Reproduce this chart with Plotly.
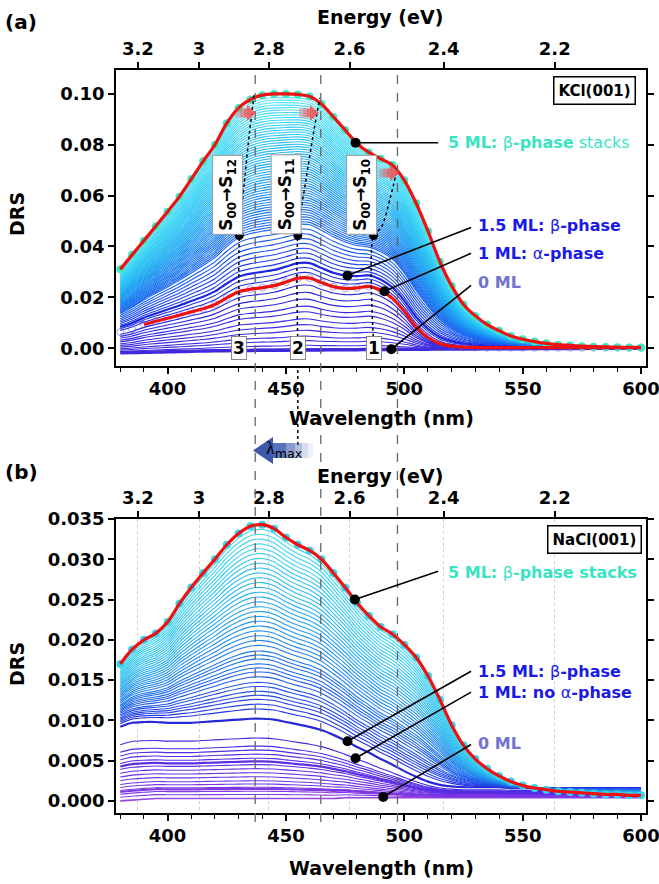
import numpy as np
import plotly.graph_objects as go

# ---------------- data ----------------
wavelength = list(range(380, 605, 5))          # nm grid
energy_ticks = [3.2, 3.0, 2.8, 2.6, 2.4, 2.2]   # eV
energy_labels = ["3.2", "3", "2.8", "2.6", "2.4", "2.2"]

# (a) KCl(001)
kcl_0ml = [-0.0018, -0.0017, -0.0016, -0.0015, -0.0014, -0.0013, -0.0012, -0.0011, -0.0010,
           -0.0010, -0.0009, -0.0009, -0.0008, -0.0008, -0.0008, -0.0007, -0.0007, -0.0007,
           -0.0006, -0.0006, -0.0006, -0.0005, -0.0005, -0.0005, -0.0004, -0.0004, -0.0004,
           -0.0003, -0.0003, -0.0003, -0.0003, -0.0002, -0.0002, -0.0002, -0.0002, -0.0001,
           -0.0001, -0.0001, -0.0001, -0.0001, 0.0, 0.0, 0.0, 0.0, 0.0]
kcl_1ml = [0.0063, 0.0075, 0.0093, 0.0106, 0.0118, 0.0130, 0.0143, 0.0155, 0.0172, 0.0198,
           0.0222, 0.0232, 0.0238, 0.0246, 0.0260, 0.0275, 0.0276, 0.0258, 0.0242, 0.0235,
           0.0237, 0.0243, 0.0228, 0.0196, 0.0145, 0.0083, 0.0042, 0.0018, 0.0008, 0.0004,
           0.0003, 0.0002, 0.0002, 0.0002, 0.0002, 0.0002, 0.0002, 0.0002, 0.0002, 0.0002,
           0.0002, 0.0002, 0.0002, 0.0002, 0.0002]
kcl_5ml = [0.0310, 0.0367, 0.0423, 0.0480, 0.0537, 0.0596, 0.0665, 0.0735, 0.0800, 0.0885,
           0.0945, 0.0978, 0.0995, 0.1000, 0.1000, 0.0998, 0.0990, 0.0960, 0.0910, 0.0858,
           0.0805, 0.0770, 0.0745, 0.0720, 0.0660, 0.0570, 0.0460, 0.0340, 0.0245, 0.0172,
           0.0127, 0.0093, 0.0069, 0.0048, 0.0035, 0.0026, 0.0019, 0.0014, 0.0011, 0.0008,
           0.0006, 0.0005, 0.0004, 0.0003, 0.0003]
# DRS at 440 nm of every intermediate spectrum
kcl_sub_ml_h440 = [-0.0004, 0.0008, 0.0024, 0.0039, 0.0059, 0.0078, 0.0098, 0.0122, 0.0141,
                   0.0165, 0.0188, 0.0213]
kcl_multi_h440 = [0.026, 0.028, 0.030, 0.032, 0.034, 0.036, 0.038, 0.040, 0.042, 0.044, 0.046,
                  0.047, 0.048, 0.049, 0.050, 0.051, 0.052, 0.053, 0.054, 0.055, 0.056, 0.057,
                  0.058, 0.059, 0.060, 0.061, 0.062, 0.063, 0.064, 0.065, 0.066, 0.067, 0.068,
                  0.069, 0.070, 0.071, 0.072, 0.073, 0.074, 0.075, 0.076, 0.077, 0.078, 0.079,
                  0.080, 0.081, 0.082, 0.083, 0.084, 0.085, 0.086, 0.087, 0.088, 0.089, 0.090,
                  0.091, 0.092, 0.093, 0.094, 0.095, 0.096, 0.097, 0.098]
kcl_15ml_h440 = 0.030

# (b) NaCl(001)
nacl_0ml = [0.0000, 0.0001, 0.0002, 0.0003, 0.0003, 0.0003, 0.0003, 0.0003, 0.0003, 0.0003,
            0.0003, 0.0003, 0.0003, 0.0003, 0.0003, 0.0003, 0.0003, 0.0003, 0.0003, 0.0004,
            0.0004, 0.0004, 0.0004, 0.0004, 0.0004, 0.0004, 0.0004, 0.0004, 0.0004, 0.0004,
            0.0004, 0.0004, 0.0004, 0.0004, 0.0004, 0.0004, 0.0004, 0.0004, 0.0004, 0.0004,
            0.0004, 0.0004, 0.0004, 0.0004, 0.0004]
nacl_15ml = [0.0092, 0.0097, 0.0098, 0.0098, 0.0097, 0.0097, 0.0097, 0.0098, 0.0099, 0.0100,
             0.0101, 0.0102, 0.0102, 0.0101, 0.0098, 0.0095, 0.0092, 0.0088, 0.0082, 0.0075,
             0.0067, 0.0060, 0.0052, 0.0045, 0.0037, 0.0030, 0.0024, 0.0020, 0.0018, 0.0017,
             0.0017, 0.0017, 0.0017, 0.0016, 0.0016, 0.0016, 0.0016, 0.0016, 0.0016, 0.0016,
             0.0016, 0.0016, 0.0016, 0.0016, 0.0016]
nacl_5ml = [0.0170, 0.0188, 0.0200, 0.0208, 0.0222, 0.0245, 0.0265, 0.0283, 0.0300, 0.0318,
            0.0332, 0.0341, 0.0343, 0.0338, 0.0327, 0.0318, 0.0311, 0.0300, 0.0283, 0.0265,
            0.0246, 0.0230, 0.0216, 0.0207, 0.0194, 0.0178, 0.0155, 0.0126, 0.0094, 0.0069,
            0.0052, 0.0040, 0.0031, 0.0024, 0.0019, 0.0016, 0.0014, 0.0012, 0.0011, 0.0010,
            0.0009, 0.0008, 0.0008, 0.0007, 0.0007]
nacl_low_h440 = [0.0008, 0.0012, 0.0015, 0.0017, 0.0021, 0.0025, 0.0030, 0.0035, 0.0040,
                 0.0045, 0.0049, 0.0053, 0.0058, 0.0063, 0.0068, 0.0078]
nacl_high_h440 = [0.0114, 0.0120, 0.0126, 0.0131, 0.0136, 0.0142, 0.0147, 0.0154, 0.0160,
                  0.0165, 0.0170, 0.0176, 0.0181, 0.0186, 0.0193, 0.0199, 0.0205, 0.0211,
                  0.0217, 0.0223, 0.0229, 0.0235, 0.0241, 0.0247, 0.0253, 0.0259, 0.0265,
                  0.0271, 0.0277, 0.0283, 0.0289, 0.0295, 0.0301, 0.0307, 0.0313, 0.0319,
                  0.0325, 0.0331, 0.0337]

# transition positions (nm) marked by dashed lines
transition_wl = [437.0, 464.7, 497.1]
# S00->S1n labels in (a)
s_labels = ["S<sub>00</sub>→S<sub>12</sub>", "S<sub>00</sub>→S<sub>11</sub>", "S<sub>00</sub>→S<sub>10</sub>"]
s_label_wl = [425.3, 450.0, 481.9]
peak_numbers = ["3", "2", "1"]
peak_wl = [430.3, 455.0, 487.0]
# dotted guides (wavelength, DRS) following the peaks with coverage
guide_wl = [[430.3, 430.3, 432.4, 434.6, 436.6],
            [455.0, 455.0, 458.4, 461.8, 464.3],
            [487.0, 487.0, 490.3, 494.1, 497.1]]
guide_drs = [[0.0020, 0.0443, 0.0650, 0.0850, 0.1000],
             [0.0020, 0.0443, 0.0659, 0.0855, 0.0984],
             [0.0020, 0.0443, 0.0475, 0.0592, 0.0710]]
# red-shift arrows (pixel centres on the page)
shift_arrow_px = [(247, 113), (310, 113), (390, 173)]

REF = wavelength.index(440)
FONT = "DejaVu Sans"
W, H = 659, 884
XR = [378.2, 602.1]


def px(x):
    return x / W


def py(y):
    return 1 - y / H


def lerp_color(stops, t):
    t = min(max(t, 0.0), 1.0)
    for (t0, c0), (t1, c1) in zip(stops[:-1], stops[1:]):
        if t <= t1:
            f = (t - t0) / (t1 - t0) if t1 > t0 else 0
            c = [round(a + f * (b - a)) for a, b in zip(c0, c1)]
            return f"rgb({c[0]},{c[1]},{c[2]})"
    c = stops[-1][1]
    return f"rgb({c[0]},{c[1]},{c[2]})"


def blend(base, top, h):
    b = np.array(base)
    t = np.array(top)
    w = (h - b[REF]) / (t[REF] - b[REF])
    return b + w * (t - b), w


fig = go.Figure()


def add_line(y, color, width, xa, ya, dash=None, shape="spline", xs=None):
    fig.add_trace(go.Scatter(x=wavelength if xs is None else xs, y=y, mode="lines",
                             line=dict(color=color, width=width, shape=shape, smoothing=0.8, dash=dash),
                             xaxis=xa, yaxis=ya, showlegend=False, hoverinfo="skip"))


# invisible traces so the top (energy) axes are always drawn
for xa, ya in (("x2", "y"), ("x4", "y2")):
    fig.add_trace(go.Scatter(x=XR, y=[0, 0], mode="markers", marker=dict(opacity=0),
                             xaxis=xa, yaxis=ya, showlegend=False, hoverinfo="skip"))

# ---------------- panel (a) ----------------
low_a = [(0, (70, 45, 222)), (1, (35, 35, 232))]
high_a = [(0, (35, 40, 232)), (0.3, (25, 100, 240)), (0.6, (30, 170, 242)),
          (0.85, (55, 210, 245)), (1, (95, 232, 245))]
add_line(kcl_0ml, "rgb(60,40,220)", 3.5, "x", "y")
for h in kcl_sub_ml_h440:
    y, w = blend(kcl_0ml, kcl_1ml, h)
    add_line(y, lerp_color(low_a, w), 1.1, "x", "y")
for h in kcl_multi_h440:
    y, w = blend(kcl_1ml, kcl_5ml, h)
    add_line(y, lerp_color(high_a, w), 1.1, "x", "y")
y15, _ = blend(kcl_1ml, kcl_5ml, kcl_15ml_h440)
add_line(y15, "rgb(30,40,225)", 2.2, "x", "y")

fig.add_trace(go.Scatter(x=wavelength, y=kcl_1ml, mode="markers",
                         marker=dict(symbol="circle-open", size=7, color="rgba(90,90,230,0.55)", line=dict(width=1)),
                         xaxis="x", yaxis="y", showlegend=False, hoverinfo="skip"))
fig.add_trace(go.Scatter(x=wavelength, y=kcl_5ml, mode="markers",
                         marker=dict(symbol="circle", size=8, color="#3ee8c0"),
                         xaxis="x", yaxis="y", showlegend=False, hoverinfo="skip"))
add_line(kcl_5ml, "#ee1111", 3.2, "x", "y")
add_line(kcl_1ml[2:], "#ee1111", 3.2, "x", "y", xs=wavelength[2:])

for gx, gy in zip(guide_wl, guide_drs):
    add_line(gy, "black", 1.5, "x", "y", dash="dot", xs=gx)

fig.add_trace(go.Scatter(x=peak_wl, y=[0.0443] * 3, mode="markers",
                         marker=dict(size=9, color="black"), xaxis="x", yaxis="y",
                         showlegend=False, hoverinfo="skip"))

lead_a = [((479.4, 0.0808), (514.3, 0.0808)), ((476.0, 0.0286), (528.2, 0.0475)),
          ((491.6, 0.0224), (528.2, 0.0373)), ((494.5, -0.0004), (528.2, 0.0247))]
fig.add_trace(go.Scatter(x=[p[0][0] for p in lead_a], y=[p[0][1] for p in lead_a], mode="markers",
                         marker=dict(size=10, color="black"), xaxis="x", yaxis="y",
                         showlegend=False, hoverinfo="skip"))

# ---------------- panel (b) ----------------
low_b = [(0, (140, 60, 228)), (0.5, (90, 45, 228)), (1, (50, 40, 228))]
high_b = [(0, (40, 45, 228)), (0.3, (30, 110, 236)), (0.65, (40, 180, 238)), (1, (70, 220, 242))]
add_line(nacl_0ml, "rgb(150,70,225)", 1.6, "x3", "y2")
for h in nacl_low_h440:
    y, w = blend(nacl_0ml, nacl_15ml, h)
    wid = 2.2 if h in (0.0015, 0.0049) else 1.1
    add_line(y, lerp_color(low_b, w), wid, "x3", "y2")
add_line(nacl_15ml, "rgb(40,40,215)", 2.2, "x3", "y2")
for h in nacl_high_h440:
    y, w = blend(nacl_15ml, nacl_5ml, h)
    add_line(y, lerp_color(high_b, w), 1.1, "x3", "y2")
fig.add_trace(go.Scatter(x=wavelength, y=nacl_5ml, mode="markers",
                         marker=dict(symbol="circle", size=8, color="#38d4ec"),
                         xaxis="x3", yaxis="y2", showlegend=False, hoverinfo="skip"))
add_line(nacl_5ml, "#ee1111", 3.2, "x3", "y2")

lead_b = [((479.1, 0.0250), (514.3, 0.0285)), ((476.0, 0.0074), (528.2, 0.0161)),
          ((479.4, 0.0053), (528.2, 0.0135)), ((491.1, 0.0005), (528.2, 0.0070))]
fig.add_trace(go.Scatter(x=[p[0][0] for p in lead_b], y=[p[0][1] for p in lead_b], mode="markers",
                         marker=dict(size=10, color="black"), xaxis="x3", yaxis="y2",
                         showlegend=False, hoverinfo="skip"))

# ---------------- shapes ----------------
shapes = []
for wl in transition_wl:
    shapes.append(dict(type="line", xref="x", yref="paper", x0=wl, x1=wl, y0=py(822), y1=py(70),
                       line=dict(color="#666666", width=1.3, dash="dash"), layer="above"))
shapes.append(dict(type="line", xref="x", yref="paper", x0=peak_wl[1], x1=peak_wl[1], y0=py(445), y1=py(366),
                   line=dict(color="black", width=1.5, dash="dot"), layer="above"))
for (p0, p1) in lead_a:
    shapes.append(dict(type="line", xref="x", yref="y", x0=p0[0], y0=p0[1], x1=p1[0], y1=p1[1],
                       line=dict(color="black", width=1.6), layer="above"))
for (p0, p1) in lead_b:
    shapes.append(dict(type="line", xref="x3", yref="y2", x0=p0[0], y0=p0[1], x1=p1[0], y1=p1[1],
                       line=dict(color="black", width=1.6), layer="above"))

# red block arrows (light tail -> saturated head)
for cx, cy in shift_arrow_px:
    for x0, x1, a in [(cx - 11, cx - 7, 0.35), (cx - 7, cx - 3, 0.6), (cx - 3, cx, 0.8)]:
        shapes.append(dict(type="rect", xref="paper", yref="paper", x0=px(x0), x1=px(x1),
                           y0=py(cy + 4.5), y1=py(cy - 4.5), fillcolor=f"rgba(242,85,85,{a})",
                           line=dict(width=0), layer="above"))
    shapes.append(dict(type="path", xref="paper", yref="paper",
                       path=f"M {px(cx)},{py(cy - 8)} L {px(cx + 9)},{py(cy)} L {px(cx)},{py(cy + 8)} Z",
                       fillcolor="rgba(242,85,85,0.9)", line=dict(width=0), layer="above"))

# lambda_max arrow (gradient block arrow pointing left)
body = [(272, 286, 0.85), (286, 295, 0.6), (295, 302, 0.38), (302, 308, 0.2), (308, 313, 0.08)]
for x0, x1, a in body:
    shapes.append(dict(type="rect", xref="paper", yref="paper", x0=px(x0), x1=px(x1), y0=py(458), y1=py(443),
                       fillcolor=f"rgba(60,90,175,{a})", line=dict(width=0), layer="above"))
shapes.append(dict(type="path", xref="paper", yref="paper",
                   path=f"M {px(253)},{py(450.5)} L {px(273)},{py(437)} L {px(273)},{py(464)} Z",
                   fillcolor="rgba(50,80,168,0.95)", line=dict(width=0), layer="above"))

# ---------------- annotations ----------------
ann = []


def text(x, y, s, size=19, xref="paper", yref="paper", angle=0, xanchor="center", color="black", **kw):
    ann.append(dict(x=x, y=y, xref=xref, yref=yref, text=s, showarrow=False, textangle=angle,
                    xanchor=xanchor, yanchor="middle", font=dict(family=FONT, size=size, color=color), **kw))


for top_y, lab, ey, wy, dy in [(22, "(a)", 17, 418, 214), (472, "(b)", 476, 868, 664)]:
    text(px(21), py(top_y), f"<b>{lab}</b>", size=20)
    text(px(380), py(ey), "<b>Energy (eV)</b>")
    text(px(381), py(wy), "<b>Wavelength (nm)</b>")
    text(px(17), py(dy), "<b>DRS</b>", angle=-90)

text(px(284), py(449), "<span style='font-family:Liberation Serif'>λ</span><sub>max</sub>", size=18)

# panel labels
text(580.3, 0.1012, "<b>KCl(001)</b>", size=15, xref="x", yref="y",
     bgcolor="white", bordercolor="black", borderwidth=1.5, borderpad=4)
text(580.3, 0.0324, "<b>NaCl(001)</b>", size=15, xref="x3", yref="y2",
     bgcolor="white", bordercolor="black", borderwidth=1.5, borderpad=4)
for s, wl in zip(s_labels, s_label_wl):
    text(wl, 0.0605, f"<b>{s}</b>", size=17, xref="x", yref="y", angle=-90,
         bgcolor="white", bordercolor="#999999", borderwidth=1, borderpad=3)
for s, wl in zip(peak_numbers, peak_wl):
    text(wl, 0.0, f"<b>{s}</b>", size=17, xref="x", yref="y",
         bgcolor="white", bordercolor="#888888", borderwidth=1, borderpad=1)

TURQ = "#38e4c2"
BLUE = "#1a1ae8"
LAV = "#7272d2"
text(517.6, 0.0808, "<b>5 ML: </b>β<b>-phase</b> stacks", size=16, xref="x", yref="y", xanchor="left", color=TURQ)
text(530.2, 0.0482, "<b>1.5 ML: </b>β<b>-phase</b>", size=16, xref="x", yref="y", xanchor="left", color=BLUE)
text(530.2, 0.0373, "<b>1 ML: </b>α<b>-phase</b>", size=16, xref="x", yref="y", xanchor="left", color=BLUE)
text(530.2, 0.0259, "<b>0 ML</b>", size=16, xref="x", yref="y", xanchor="left", color=LAV)

text(517.6, 0.0284, "<b>5 ML: </b>β<b>-phase stacks</b>", size=16, xref="x3", yref="y2", xanchor="left", color=TURQ)
text(530.2, 0.0161, "<b>1.5 ML: </b>β<b>-phase</b>", size=16, xref="x3", yref="y2", xanchor="left", color=BLUE)
text(530.2, 0.0135, "<b>1 ML: no </b>α<b>-phase</b>", size=16, xref="x3", yref="y2", xanchor="left", color=BLUE)
text(530.2, 0.0071, "<b>0 ML</b>", size=16, xref="x3", yref="y2", xanchor="left", color=LAV)

# ---------------- axes ----------------
tickfont = dict(family=FONT, size=18, color="black", weight="bold")
dom_x = [px(116), px(646)]


def bottom_axis(anchor):
    return dict(domain=dom_x, range=XR, anchor=anchor, showline=True, linecolor="black", linewidth=1.5,
                ticks="outside", ticklen=6, tickwidth=1.5, tickcolor="black", tick0=0, dtick=50,
                minor=dict(tick0=0, dtick=10, ticks="outside", ticklen=4, tickwidth=1.2, tickcolor="black"),
                showgrid=False, zeroline=False, tickfont=tickfont, automargin=False,
                ticklabeloverflow="allow")


def top_axis(over, anchor, grid):
    return dict(overlaying=over, side="top", anchor=anchor, range=XR, showline=True,
                linecolor="black", linewidth=1.5, ticks="outside", ticklen=6, tickwidth=1.5,
                tickcolor="black", tickmode="array", tickvals=[1239.84 / e for e in energy_ticks],
                ticktext=energy_labels, showgrid=grid, gridcolor="#cfcfcf", griddash="dot", gridwidth=1,
                zeroline=False, tickfont=tickfont, automargin=False, ticklabeloverflow="allow")


def y_axis(dom, rng, vals, fmt, anchor):
    return dict(domain=dom, range=rng, anchor=anchor, tickmode="array", tickvals=vals, tickformat=fmt,
                showline=True, mirror="ticks", linecolor="black", linewidth=1.5, ticks="outside",
                ticklen=6, tickwidth=1.5, tickcolor="black", showgrid=False, zeroline=False,
                tickfont=tickfont, automargin=False, ticklabeloverflow="allow")


fig.update_layout(
    width=W, height=H, margin=dict(l=0, r=0, t=0, b=0, pad=0, autoexpand=False),
    paper_bgcolor="white", plot_bgcolor="white", showlegend=False,
    xaxis=bottom_axis("y"),
    xaxis2=top_axis("x", "y", False),
    yaxis=y_axis([py(366), py(70)], [-0.007, 0.1094], [0, 0.02, 0.04, 0.06, 0.08, 0.10], ".2f", "x"),
    xaxis3=bottom_axis("y2"),
    xaxis4=top_axis("x3", "y2", True),
    yaxis2=y_axis([py(813), py(519)], [-0.0015, 0.035],
                  [0, 0.005, 0.010, 0.015, 0.020, 0.025, 0.030, 0.035], ".3f", "x3"),
    shapes=shapes, annotations=ann,
)

fig.write_html("out.html", config={"displayModeBar": False},
               post_script="document.body.style.margin='0';")
